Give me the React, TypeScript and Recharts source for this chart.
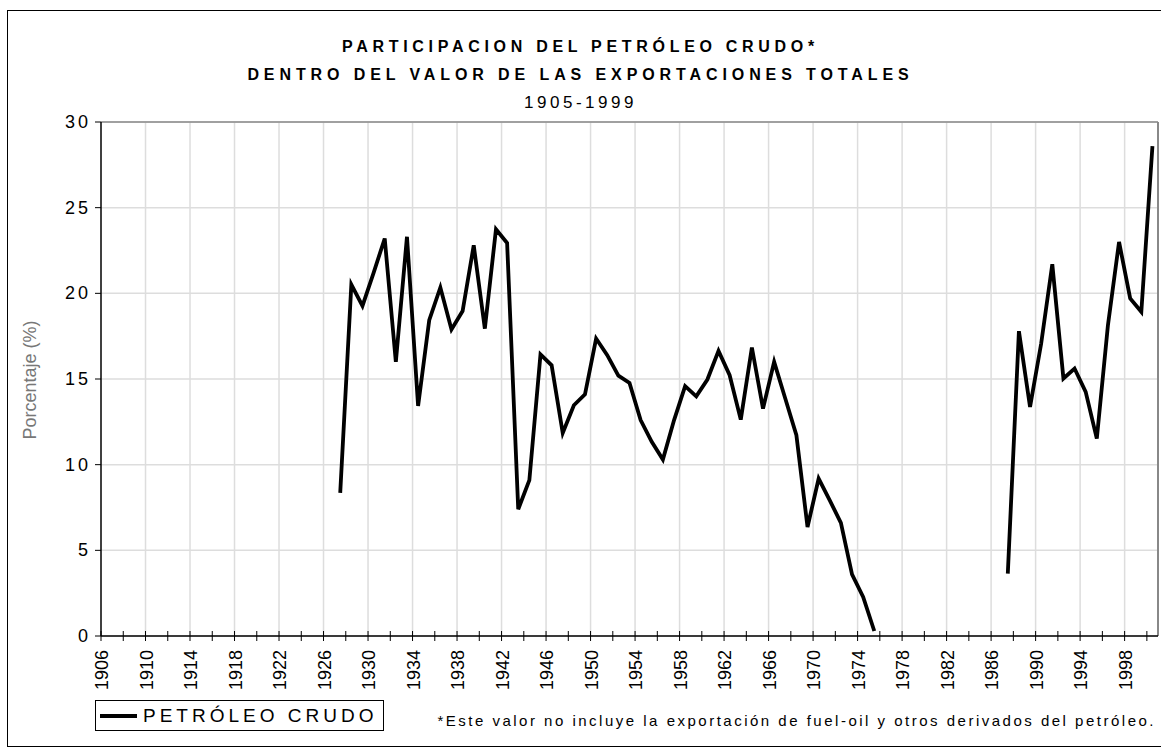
import React from 'react';
import { LineChart, Line, XAxis, YAxis, CartesianGrid, ReferenceLine } from 'recharts';

const FONT = '"Liberation Sans", Arial, sans-serif';

// Participación del petróleo crudo (%), tramo 1926-1974
const SEG1_START = 1926;
const seg1Values = [
  8.35, 20.51, 19.27, 21.2, 23.2, 16.0, 23.3, 13.43, 18.43, 20.34,
  17.89, 18.97, 22.8, 17.94, 23.74, 22.94, 7.4, 9.1, 16.43, 15.8,
  11.85, 13.47, 14.11, 17.36, 16.39, 15.2, 14.77, 12.6, 11.33, 10.3,
  12.59, 14.58, 13.99, 14.97, 16.64, 15.22, 12.63, 16.84, 13.27, 16.0,
  13.86, 11.72, 6.36, 9.19, 7.92, 6.6, 3.6, 2.28, 0.29,
];

// tramo 1986-1999
const SEG2_START = 1986;
const seg2Values = [
  3.64, 17.79, 13.37, 17.07, 21.7, 15.03, 15.61, 14.25, 11.52, 18.14,
  23.0, 19.7, 18.92, 28.59,
];

const FIRST_YEAR = 1905;
const LAST_YEAR = 1999;

const tickLabels = [
  '1906', '1910', '1914', '1918', '1922', '1926', '1930', '1934',
  '1938', '1942', '1946', '1950', '1954', '1958', '1962', '1966',
  '1970', '1974', '1978', '1982', '1986', '1990', '1994', '1998',
];

const yTicks = [0, 5, 10, 15, 20, 25, 30];

const valueFor = (year: number) => {
  if (year >= SEG1_START && year < SEG1_START + seg1Values.length) return seg1Values[year - SEG1_START];
  if (year >= SEG2_START && year < SEG2_START + seg2Values.length) return seg2Values[year - SEG2_START];
  return null;
};

const data: { year: number; crudo: number | null }[] = [];
for (let y = FIRST_YEAR; y <= LAST_YEAR; y++) data.push({ year: y, crudo: valueFor(y) });

// category boundaries (every 2 years) and gridlines (every 4)
const xTicks = Array.from({ length: 48 }, (_, i) => FIRST_YEAR - 0.5 + 2 * i);
const xGrid = Array.from({ length: 23 }, (_, i) => FIRST_YEAR + 3.5 + 4 * i);

const XTick = (props: any) => {
  const { x, y, index } = props;
  const label = index % 2 === 0 ? tickLabels[index / 2] : null;
  const ty = y + 9;
  return (
    <g>
      <line x1={x} y1={y - 10} x2={x} y2={y} stroke="#000" strokeWidth={1} />
      {label && (
        <text
          x={x + 1}
          y={ty}
          transform={`rotate(-90, ${x + 1}, ${ty})`}
          textAnchor="end"
          dominantBaseline="central"
          fontSize={18}
          fontFamily={FONT}
          fill="#000"
        >
          {label}
        </text>
      )}
    </g>
  );
};

const YTick = (props: any) => {
  const { x, y, payload } = props;
  return (
    <text
      x={x}
      y={y}
      textAnchor="end"
      dominantBaseline="central"
      fontSize={18}
      fontFamily={FONT}
      letterSpacing={3}
      fill="#000"
    >
      {payload.value}
    </text>
  );
};

export default function App() {
  return (
    <div style={{ position: 'absolute', left: 0, top: 0, width: 1161, height: 749, background: '#fff', fontFamily: FONT }}>
      <div style={{ position: 'absolute', left: 7, top: 10, width: 1153, height: 735, border: '1px solid #000' }} />

      <div style={{ position: 'absolute', left: 0, width: 1161, top: 39, textAlign: 'center', fontSize: 16, lineHeight: '16px', fontWeight: 'bold', letterSpacing: 4.7 }}>
        PARTICIPACION DEL PETRÓLEO CRUDO*
      </div>
      <div style={{ position: 'absolute', left: 0, width: 1161, top: 67, textAlign: 'center', fontSize: 16, lineHeight: '16px', fontWeight: 'bold', letterSpacing: 4.9 }}>
        DENTRO DEL VALOR DE LAS EXPORTACIONES TOTALES
      </div>
      <div style={{ position: 'absolute', left: 0, width: 1161, top: 94, textAlign: 'center', fontSize: 17, lineHeight: '17px', letterSpacing: 3.5 }}>
        1905-1999
      </div>

      <div style={{ position: 'absolute', left: -70, top: 370, width: 200, textAlign: 'center', fontSize: 18, lineHeight: '20px', color: '#777', transform: 'rotate(-90deg)' }}>
        Porcentaje (%)
      </div>

      <div style={{ position: 'absolute', left: 0, top: 0 }}>
        <LineChart width={1161} height={749} data={data} margin={{ top: 122, right: 3, bottom: 53, left: 41 }}>
          <CartesianGrid vertical={false} stroke="#dddddd" strokeWidth={1.5} />
          {xGrid.map((v) => (
            <ReferenceLine key={v} x={v} stroke="#dddddd" strokeWidth={1.5} />
          ))}
          <ReferenceLine y={30} stroke="#888" strokeWidth={1.5} />
          <ReferenceLine x={LAST_YEAR + 0.5} stroke="#888" strokeWidth={2} />
          <XAxis
            dataKey="year"
            type="number"
            domain={[FIRST_YEAR - 0.5, LAST_YEAR + 0.5]}
            ticks={xTicks}
            interval={0}
            height={60}
            tickSize={5}
            tickMargin={0}
            tickLine={false}
            axisLine={{ stroke: '#000', strokeWidth: 1.5 }}
            tick={<XTick />}
          />
          <YAxis
            domain={[0, 30]}
            ticks={yTicks}
            width={60}
            tickSize={6}
            tickMargin={4}
            tickLine={{ stroke: '#000' }}
            axisLine={{ stroke: '#000', strokeWidth: 1.5 }}
            tick={<YTick />}
          />
          <Line
            type="linear"
            dataKey="crudo"
            stroke="#000"
            strokeWidth={3.8}
            dot={false}
            activeDot={false}
            connectNulls={false}
            isAnimationActive={false}
          />
        </LineChart>
      </div>

      <div style={{ position: 'absolute', left: 95, top: 700, width: 287, height: 29, border: '1px solid #000' }}>
        <div style={{ position: 'absolute', left: 4, top: 13, width: 37, height: 4, background: '#000' }} />
        <div style={{ position: 'absolute', left: 47, top: 5, fontSize: 19, lineHeight: '19px', letterSpacing: 4, whiteSpace: 'nowrap' }}>
          PETRÓLEO CRUDO
        </div>
      </div>

      <div style={{ position: 'absolute', left: 0, width: 1156, top: 713, textAlign: 'right', fontSize: 15, lineHeight: '15px', letterSpacing: 2.5, whiteSpace: 'nowrap' }}>
        *Este valor no incluye la exportación de fuel-oil y otros derivados del petróleo.
      </div>
    </div>
  );
}
